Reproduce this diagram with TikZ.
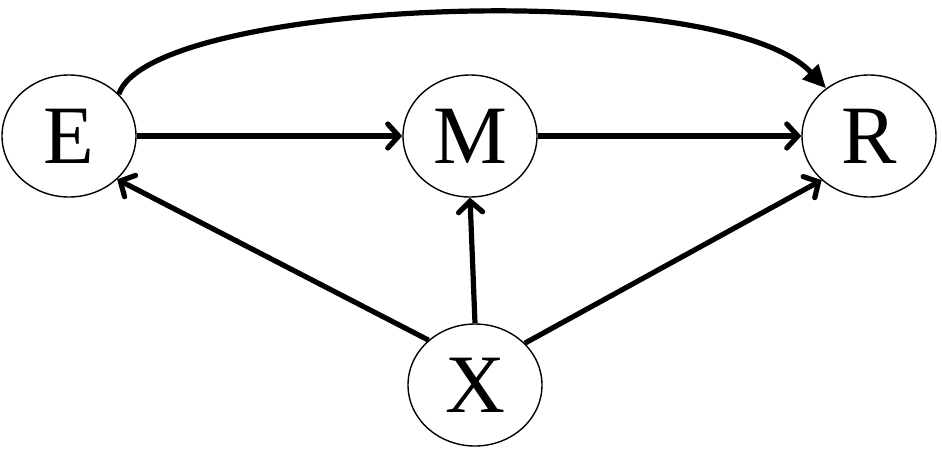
\documentclass[tikz,border=0pt]{standalone}
\usepackage{fontspec}
\setmainfont{Liberation Serif}
\usetikzlibrary{arrows.meta,shapes.geometric}
\begin{document}
\begin{tikzpicture}[x=1pt,y=-1pt,
  var/.style={ellipse,draw,line width=1.4pt,minimum width=134pt,minimum height=122pt,inner sep=0pt,font=\fontsize{83}{83}\selectfont},
  edge/.style={line width=5.2pt,-{Straight Barb[length=11pt,width=24pt,line cap=round]}},
  curvedge/.style={line width=5.2pt,-{Triangle[length=23pt,width=21pt]}}]
\useasboundingbox (0,0) rectangle (942,448);
\node[var] (E) at (69,136) {E};
\node[var] (M) at (470,136) {M};
\node[var] (R) at (869,136) {R};
\node[var] (X) at (475,385) {X};
\draw[edge] (E) -- (M);
\draw[edge] (M) -- (R);
\draw[edge] (X.north) -- (M.south);
\draw[edge] (X.136) -- (E.-42.5);
\draw[edge] (X.40.7) -- (R.-137.4);
\draw[curvedge] (E.40.5) .. controls (150,0) and (720,-24) .. (R.132.7);
\end{tikzpicture}
\end{document}
